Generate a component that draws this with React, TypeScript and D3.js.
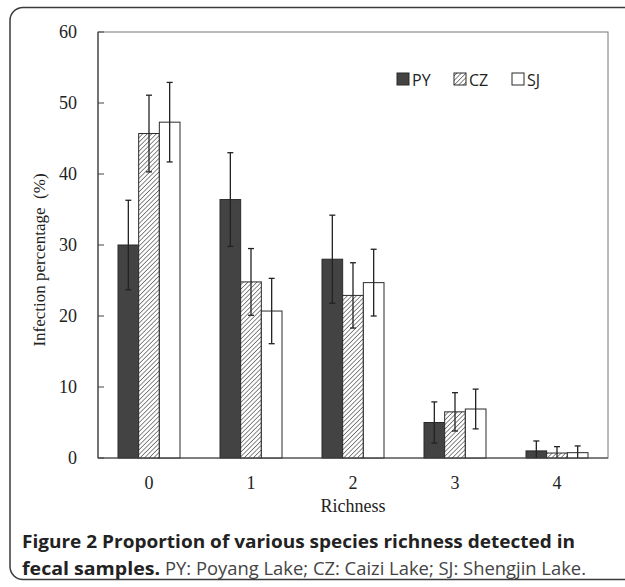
import React, { useEffect, useRef } from 'react';
import * as d3 from 'd3';

// values (percent, with error bar half-widths)
const categories = ['0', '1', '2', '3', '4'];
const seriesNames = ['PY', 'CZ', 'SJ'];
const pyValues = [30.0, 36.4, 28.0, 5.0, 1.0];
const pyErr = [6.3, 6.6, 6.2, 2.9, 1.4];
const czValues = [45.7, 24.8, 22.9, 6.5, 0.7];
const czErr = [5.4, 4.7, 4.6, 2.7, 0.9];
const sjValues = [47.3, 20.7, 24.7, 6.9, 0.75];
const sjErr = [5.6, 4.6, 4.7, 2.8, 0.95];
const yTicks = [0, 10, 20, 30, 40, 50, 60];

const W = 625;
const H = 587;

const App: React.FC = () => {
  const svgRef = useRef<SVGSVGElement | null>(null);

  useEffect(() => {
    if (!svgRef.current) return;
    const svg = d3.select(svgRef.current);
    svg.selectAll('*').remove();

    const left = 98, right = 608, top = 32, bottom = 458;

    const defs = svg.append('defs');
    const pat = defs.append('pattern')
      .attr('id', 'hatch')
      .attr('patternUnits', 'userSpaceOnUse')
      .attr('width', 3.2)
      .attr('height', 3.2)
      .attr('patternTransform', 'rotate(45)');
    pat.append('rect').attr('width', 3.2).attr('height', 3.2).attr('fill', '#fff');
    pat.append('line')
      .attr('x1', 0).attr('y1', 0).attr('x2', 0).attr('y2', 3.2)
      .attr('stroke', '#4a4a4a').attr('stroke-width', 1.3);

    // outer frame of the figure
    svg.append('rect')
      .attr('x', 10).attr('y', 7.5)
      .attr('width', 660).attr('height', 572)
      .attr('rx', 13)
      .attr('fill', 'none')
      .attr('stroke', '#3a3a3a')
      .attr('stroke-width', 1.5);

    const x = d3.scaleBand().domain(categories).range([left, right]);
    const inner = d3.scaleBand().domain(seriesNames).range([-31, 31]);
    const y = d3.scaleLinear().domain([0, 60]).range([bottom, top]);

    // plot box
    svg.append('rect')
      .attr('x', left).attr('y', top)
      .attr('width', right - left).attr('height', bottom - top)
      .attr('fill', 'none')
      .attr('stroke', '#777')
      .attr('stroke-width', 1);

    const series = [
      { name: 'PY', values: pyValues, err: pyErr, fill: '#434343' },
      { name: 'CZ', values: czValues, err: czErr, fill: 'url(#hatch)' },
      { name: 'SJ', values: sjValues, err: sjErr, fill: '#fff' },
    ];

    const g = svg.append('g');
    series.forEach(s => {
      const cx = (i: number) => (x(categories[i]) || 0) + x.bandwidth() / 2 + (inner(s.name) || 0);
      g.selectAll(null)
        .data(s.values)
        .enter().append('rect')
        .attr('x', (_, i) => cx(i))
        .attr('y', d => y(d))
        .attr('width', inner.bandwidth())
        .attr('height', d => bottom - y(d))
        .attr('fill', s.fill)
        .attr('stroke', '#2a2a2a')
        .attr('stroke-width', 1);
    });

    // error bars
    series.forEach(s => {
      const cx = (i: number) => (x(categories[i]) || 0) + x.bandwidth() / 2 + (inner(s.name) || 0) + inner.bandwidth() / 2;
      const eb = g.selectAll(null)
        .data(s.values.map((v, i) => ({ v, e: s.err[i], i })))
        .enter().append('g')
        .attr('stroke', '#222')
        .attr('stroke-width', 1.3);
      eb.append('line')
        .attr('x1', d => cx(d.i)).attr('x2', d => cx(d.i))
        .attr('y1', d => y(Math.max(0, d.v - d.e)))
        .attr('y2', d => y(d.v + d.e));
      eb.append('line')
        .attr('x1', d => cx(d.i) - 3).attr('x2', d => cx(d.i) + 3)
        .attr('y1', d => y(d.v + d.e)).attr('y2', d => y(d.v + d.e));
      eb.filter(d => d.v - d.e > 0).append('line')
        .attr('x1', d => cx(d.i) - 3).attr('x2', d => cx(d.i) + 3)
        .attr('y1', d => y(d.v - d.e)).attr('y2', d => y(d.v - d.e));
    });

    // axes lines
    svg.append('line')
      .attr('x1', left).attr('x2', left).attr('y1', top).attr('y2', bottom)
      .attr('stroke', '#444').attr('stroke-width', 1.2);
    svg.append('line')
      .attr('x1', left).attr('x2', right).attr('y1', bottom).attr('y2', bottom)
      .attr('stroke', '#444').attr('stroke-width', 1.2);

    const serif = '"Liberation Serif", "Times New Roman", serif';

    // y ticks
    svg.selectAll(null).data(yTicks).enter().append('line')
      .attr('x1', left).attr('x2', left + 6)
      .attr('y1', d => y(d)).attr('y2', d => y(d))
      .attr('stroke', '#444');
    svg.selectAll(null).data(yTicks).enter().append('text')
      .attr('x', 77).attr('y', d => y(d) + 6)
      .attr('text-anchor', 'end')
      .attr('font-family', serif).attr('font-size', 18).attr('fill', '#222')
      .text(d => d);

    // x tick labels
    svg.selectAll(null).data(categories).enter().append('text')
      .attr('x', d => (x(d) || 0) + x.bandwidth() / 2)
      .attr('y', 489)
      .attr('text-anchor', 'middle')
      .attr('font-family', serif).attr('font-size', 18).attr('fill', '#222')
      .text(d => d);

    svg.append('text')
      .attr('x', (left + right) / 2).attr('y', 512)
      .attr('text-anchor', 'middle')
      .attr('font-family', serif).attr('font-size', 18).attr('fill', '#222')
      .text('Richness');

    svg.append('text')
      .attr('transform', `translate(45,${(top + bottom) / 2 + 15}) rotate(-90)`)
      .attr('text-anchor', 'middle')
      .attr('font-family', serif).attr('font-size', 17).attr('fill', '#222')
      .attr('xml:space', 'preserve')
      .text('Infection percentage  (%)');

    // legend
    const legendX = [397, 454, 512];
    const lg = svg.append('g');
    series.forEach((s, i) => {
      lg.append('rect')
        .attr('x', legendX[i]).attr('y', 73)
        .attr('width', 12).attr('height', 12)
        .attr('fill', s.fill)
        .attr('stroke', '#2a2a2a');
      lg.append('text')
        .attr('x', legendX[i] + 15).attr('y', 85.5)
        .attr('font-family', '"Open Sans", sans-serif')
        .attr('font-size', 16).attr('fill', '#222')
        .text(s.name);
    });

    // caption
    const sans = '"Open Sans", "Noto Sans", sans-serif';
    svg.append('text')
      .attr('x', 22).attr('y', 548)
      .attr('font-family', sans).attr('font-size', 18).attr('font-weight', 'bold').attr('fill', '#222')
      .attr('textLength', 553).attr('lengthAdjust', 'spacingAndGlyphs')
      .text('Figure 2 Proportion of various species richness detected in');
    const t2 = svg.append('text')
      .attr('x', 22).attr('y', 575)
      .attr('font-family', sans).attr('font-size', 18).attr('fill', '#222');
    t2.append('tspan').attr('font-weight', 'bold')
      .attr('textLength', 138).attr('lengthAdjust', 'spacingAndGlyphs')
      .text('fecal samples.');
    t2.append('tspan').attr('dx', 5).attr('fill', '#444')
      .attr('textLength', 421).attr('lengthAdjust', 'spacingAndGlyphs')
      .text('PY: Poyang Lake; CZ: Caizi Lake; SJ: Shengjin Lake.');
  }, []);

  return (
    <svg
      ref={svgRef}
      width={W}
      height={H}
      style={{ position: 'absolute', left: 0, top: 0, background: '#fff' }}
    />
  );
};

export default App;
